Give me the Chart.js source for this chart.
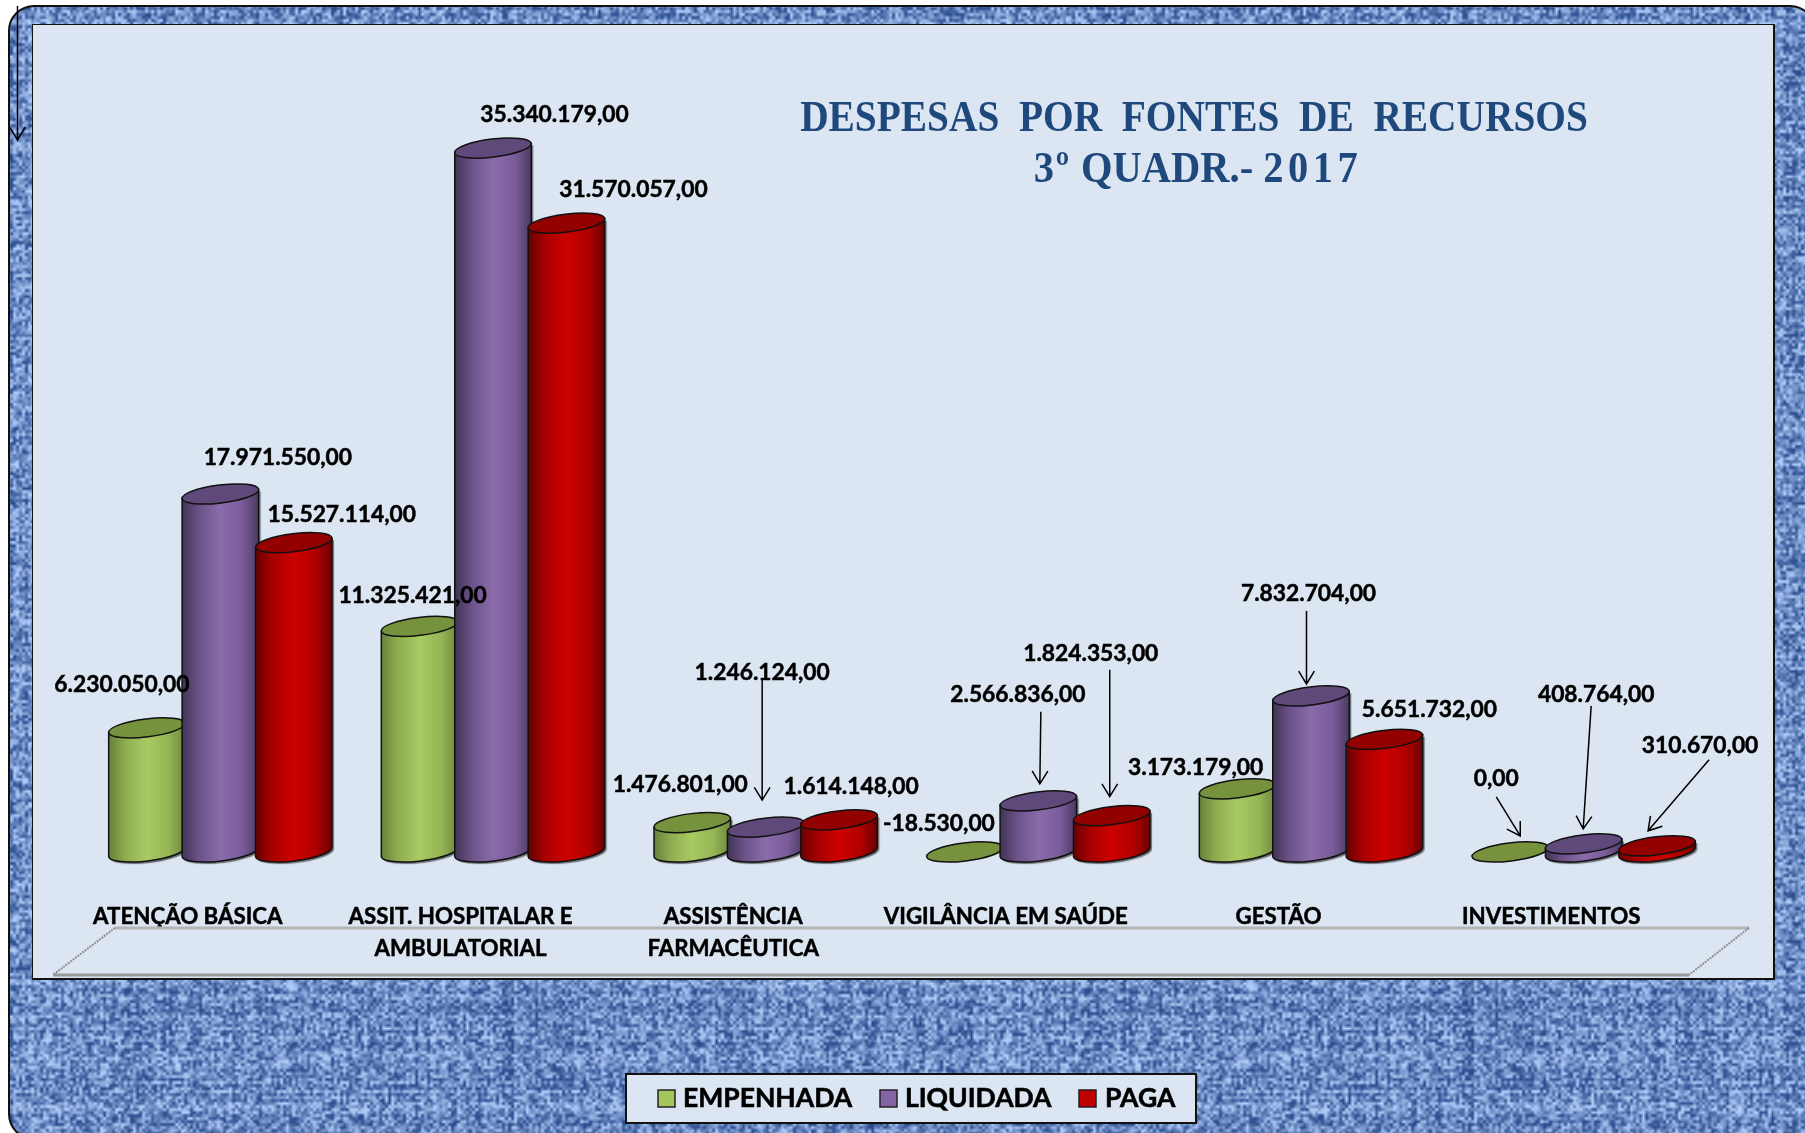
<!DOCTYPE html>
<html lang="pt-BR">
<head>
<meta charset="utf-8">
<title>Despesas por fontes de recursos</title>
<script src="https://cdn.jsdelivr.net/npm/chart.js@4"></script>
<style>
  html,body{margin:0;padding:0;width:1805px;height:1133px;overflow:hidden;background:#fff}
  #frame{position:absolute;left:8px;top:5px;width:1808px;height:1135px;box-sizing:border-box;border:2px solid #111;border-radius:26px;background-color:#6A8CC8}
  #panel{position:absolute;left:32px;top:24px;width:1743px;height:956px;box-sizing:border-box;border:2px solid #111;border-width:1.5px 2px 2px 1.5px;background:#DCE6F2}
  #chart{position:absolute;left:0;top:0}
  .title{position:absolute;left:594px;width:1200px;text-align:center;color:#1F497D;font:bold 45px/51px "Liberation Serif",serif;white-space:pre;transform-origin:50% 50%}
  .title .w{letter-spacing:5px}
  .title .o{letter-spacing:2px}
</style>
</head>
<body>
<div id="frame"></div>
<div id="panel"></div>
<canvas id="chart" width="1805" height="1133"></canvas>
<div class="title" id="t1" style="top:91px;transform:scaleX(.875)">DESPESAS  POR  FONTES  DE  RECURSOS</div>
<div class="title" id="t2" style="top:142px;left:598px;transform:scaleX(.9)"><span class="o">3º</span> QUADR.- <span class="w">2017</span></div>
<script>
const categories = [
  ['ATENÇÃO BÁSICA'],
  ['ASSIT. HOSPITALAR E', 'AMBULATORIAL'],
  ['ASSISTÊNCIA', 'FARMACÊUTICA'],
  ['VIGILÂNCIA EM SAÚDE'],
  ['GESTÃO'],
  ['INVESTIMENTOS']
];
const empenhada = [6230050, 11325421, 1476801, -18530, 3173179, 0];
const liquidada = [17971550, 35340179, 1246124, 2566836, 7832704, 408764];
const paga = [15527114, 31570057, 1614148, 1824353, 5651732, 310670];
const seriesNames = ['EMPENHADA', 'LIQUIDADA', 'PAGA'];

// label placement, relative to the top of each bar
const empenhadaLabelOffsets = [[-25,-43],[-7,-31],[-12,-38],[-26,-29],[-42,-21],[-14,-73]];
const liquidadaLabelOffsets = [[57.5,-36],[61.5,-33],[-3.5,-155],[-20.5,-106],[-2.5,-102],[12.5,-149]];
const pagaLabelOffsets = [[48,-28],[67,-33],[12,-33],[-21,-162],[45,-30],[43,-100]];
const labelOffsets = [empenhadaLabelOffsets, liquidadaLabelOffsets, pagaLabelOffsets];
// callouts: series, category, start offset, tip offset (relative to the top of the bar)
const callouts = [
  [1,2,[-3.5,-148],[-3.5,-27]],
  [1,3,[2.5,-89],[1.5,-17]],
  [2,3,[-2,-146],[-2,-19]],
  [1,4,[-4.5,-85],[-4.5,-12]],
  [0,5,[-14,-55],[10,-16]],
  [1,5,[7.5,-138],[-0.5,-15]],
  [2,5,[52,-86],[-9,-15]]
];

const palettes = [
  {swatch:'#A4C45E', top:'#76923C', stops:['#66803A','#8FAD50','#A8CA62','#95B556','#6C873B']},
  {swatch:'#8564A5', top:'#5F497A', stops:['#3F3352','#6A5288','#8B6BAB','#7A5C9A','#4A3A61']},
  {swatch:'#C00000', top:'#930000', stops:['#650000','#A80000','#CC0000','#B20000','#6C0000']}
];

/* woven background texture */
(function(){
  const n = 320, c = document.createElement('canvas'); c.width = c.height = n;
  const g = c.getContext('2d'), im = g.createImageData(n,n);
  const h = (a,b)=>{let v=(a*73856093)^(b*19349663);v=(v^(v>>>13))*1274126177;v^=v>>>16;return ((v>>>0)%1000)/1000;};
  for(let y=0;y<n;y++)for(let x=0;x<n;x++){
    const horiz=(x+y)%2===0;
    const thread=horiz?h(y,7)*.35+h(x>>1,y)*.65:h(x,11)*.35+h(x,y>>1)*.65;
    let t=thread*1.5-.25+(h(x,y)-.5)*.35; t=Math.max(0,Math.min(1,t));
    const lo=[42,76,142],hi=[178,206,250],i=(y*n+x)*4;
    for(let k=0;k<3;k++)im.data[i+k]=lo[k]+(hi[k]-lo[k])*t;
    im.data[i+3]=255;
  }
  g.putImageData(im,0,0);
  const f=document.getElementById('frame');
  f.style.backgroundImage='url('+c.toDataURL()+')';
  f.style.backgroundSize='960px 960px';
})();

const TILT = -7*Math.PI/180, MINOR = 9;
const fmt = v => {
  const s = Math.abs(v).toString().replace(/\B(?=(\d{3})+$)/g,'.');
  return (v<0?'-':'')+s+',00';
};
function cylinder(ctx,x,top,base,w,p){
  const a=w/2,b=MINOR,cx=a*Math.cos(TILT),sy=a*Math.sin(TILT);
  if(base-top>1.5){
    ctx.save();
    const gr=ctx.createLinearGradient(x-a,0,x+a,0);
    p.stops.forEach((s,i)=>gr.addColorStop([0,.22,.5,.78,1][i],s));
    ctx.fillStyle=gr;ctx.strokeStyle='#111';ctx.lineWidth=1.5;
    ctx.shadowColor='rgba(60,60,60,.7)';ctx.shadowBlur=1;ctx.shadowOffsetX=2;ctx.shadowOffsetY=2;
    ctx.beginPath();
    ctx.moveTo(x-cx,top-sy);
    ctx.lineTo(x-cx,base-sy);
    ctx.ellipse(x,base,a,b,TILT,Math.PI,0,true);
    ctx.lineTo(x+cx,top+sy);
    ctx.closePath();
    ctx.fill();
    ctx.shadowColor='transparent';
    ctx.stroke();
    ctx.restore();
  }
  ctx.save();
  ctx.fillStyle=p.top;ctx.strokeStyle='#111';ctx.lineWidth=1.5;
  ctx.beginPath();ctx.ellipse(x,top,a,b,TILT,0,Math.PI*2);ctx.fill();ctx.stroke();
  ctx.restore();
}
function arrow(ctx,x0,y0,x1,y1){
  const an=Math.atan2(y1-y0,x1-x0),L=15,S=.55;
  ctx.beginPath();ctx.moveTo(x0,y0);ctx.lineTo(x1,y1);
  ctx.moveTo(x1-L*Math.cos(an-S),y1-L*Math.sin(an-S));
  ctx.lineTo(x1,y1);
  ctx.lineTo(x1-L*Math.cos(an+S),y1-L*Math.sin(an+S));
  ctx.stroke();
}
const decor = {
  id:'decor',
  beforeDatasetsDraw(chart){
    // floor of the 3D plot, hung from the axis
    const {ctx,chartArea:ca}=chart, ft=ca.bottom+56, fb=ca.bottom+103;
    ctx.save();
    ctx.strokeStyle='#B4B4B4';ctx.lineWidth=3;
    ctx.beginPath();ctx.moveTo(ca.left+31,ft);ctx.lineTo(ca.right+29,ft);ctx.stroke();
    ctx.strokeStyle='#999';
    ctx.beginPath();ctx.moveTo(ca.left-31,fb);ctx.lineTo(ca.right-31,fb);ctx.stroke();
    ctx.strokeStyle='#8f8f8f';ctx.lineWidth=2;ctx.setLineDash([2,1]);
    ctx.beginPath();ctx.moveTo(ca.left+31,ft);ctx.lineTo(ca.left-31,fb);
    ctx.moveTo(ca.right+29,ft);ctx.lineTo(ca.right-31,fb);ctx.stroke();
    ctx.restore();
  },
  afterDatasetsDraw(chart){
    const ctx=chart.ctx;
    [0,1,2].forEach(d=>chart.getDatasetMeta(d).data.forEach(el=>{
      const top=Math.min(el.y,el.base);
      cylinder(ctx,el.x,Math.abs(el.y-el.base)<3?el.base:top,el.base,el.width,palettes[d]);
    }));
    ctx.save();
    ctx.fillStyle='#000';ctx.textAlign='center';ctx.textBaseline='middle';
    ctx.strokeStyle='#000';ctx.lineWidth=1.5;
    callouts.forEach(([d,i,s,t])=>{
      const el=chart.getDatasetMeta(d).data[i];
      arrow(ctx,el.x+s[0],el.y+s[1],el.x+t[0],el.y+t[1]);
    });
    arrow(ctx,17.5,6,17.5,140);
    ctx.font='bold 22.8px Lato';ctx.lineWidth=.5;
    chart.data.datasets.forEach((ds,d)=>chart.getDatasetMeta(d).data.forEach((el,i)=>{
      const t=fmt(ds.data[i]),x=el.x+labelOffsets[d][i][0],y=el.y+labelOffsets[d][i][1];
      ctx.fillText(t,x,y);ctx.strokeText(t,x,y);
    }));
    // legend box
    ctx.fillStyle='#DCE6F2';ctx.strokeStyle='#111';ctx.lineWidth=2;
    ctx.fillRect(626,1074,570,49);ctx.strokeRect(626,1074,570,49);
    ctx.font='bold 26.5px Lato';ctx.textAlign='left';
    const swatchX=[658,880,1079], textX=[683,905,1105];
    chart.data.datasets.forEach((ds,d)=>{
      ctx.fillStyle=palettes[d].swatch;ctx.strokeStyle='#222';ctx.lineWidth=1.5;
      ctx.fillRect(swatchX[d],1090,17,17);ctx.strokeRect(swatchX[d],1090,17,17);
      ctx.fillStyle='#000';ctx.strokeStyle='#000';ctx.lineWidth=.6;
      ctx.fillText(ds.label,textX[d],1098);ctx.strokeText(ds.label,textX[d],1098);
    });
    ctx.restore();
  }
};
new Chart(document.getElementById('chart'),{
  type:'bar',
  data:{labels:categories,datasets:[empenhada,liquidada,paga].map((data,d)=>({
    label:seriesNames[d],data,backgroundColor:'rgba(0,0,0,0)',borderWidth:0,
    categoryPercentage:.8077,barPercentage:1.05
  }))},
  options:{
    responsive:false,animation:false,events:[],
    layout:{padding:{left:84,right:85,top:55.2,bottom:0}},
    plugins:{legend:{display:false},title:{display:false},tooltip:{enabled:false}},
    scales:{
      y:{display:false,min:-1000000,max:40000000},
      x:{
        afterFit(s){s.height=261.1;},
        grid:{display:false,drawTicks:false},border:{display:false},
        ticks:{autoSkip:false,maxRotation:0,minRotation:0,padding:29,labelOffset:-32.5,color:'#000',
               textStrokeColor:'#000',textStrokeWidth:.5,
               font:{family:'Lato',weight:'bold',size:22.3,lineHeight:1.435}}
      }
    }
  },
  plugins:[decor]
});
</script>
</body>
</html>
